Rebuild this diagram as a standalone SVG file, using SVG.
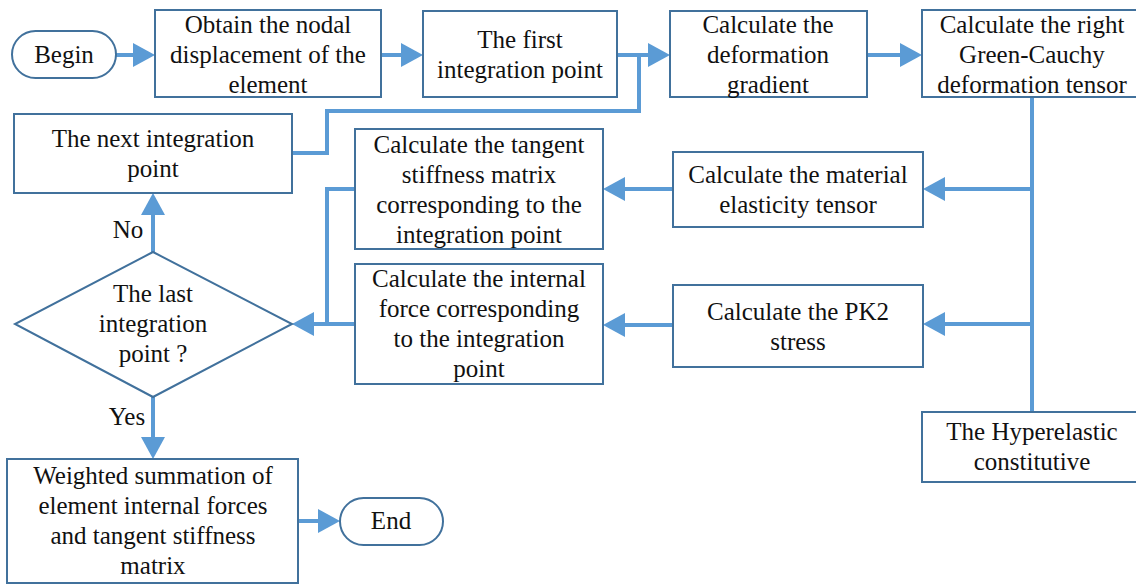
<svg xmlns="http://www.w3.org/2000/svg" width="1136" height="584" viewBox="0 0 1136 584">
<style>
.box{fill:#fff;stroke:#41719C;stroke-width:2}
.t{font-family:'Liberation Serif','DejaVu Serif',serif;font-size:25px;fill:#111;text-anchor:middle}
.c{fill:none;stroke:#5B9BD5;stroke-width:4}
.a{marker-end:url(#ah)}
</style>
<defs>
<marker id="ah" markerUnits="userSpaceOnUse" viewBox="0 0 22 24" markerWidth="22" markerHeight="24" refX="0" refY="12" orient="auto">
<path d="M0,0 L22,12 L0,24 Z" fill="#5B9BD5"/>
</marker>
</defs>
<rect width="1136" height="584" fill="#fff"/>
<g id="connectors">
<path class="c a" d="M116,55 H133"/>
<path class="c a" d="M381,55 H401"/>
<path class="c a" d="M617,55 H648"/>
<path class="c" d="M292,153 H327 V111 H639 V55"/>
<path class="c a" d="M867,55 H900"/>
<path class="c" d="M1032,97 V412"/>
<path class="c a" d="M1032,189 H945"/>
<path class="c a" d="M1032,324 H945"/>
<path class="c a" d="M673,189 H625"/>
<path class="c a" d="M673,325 H625"/>
<path class="c" d="M355,189 H327 V324"/>
<path class="c a" d="M355,324 H314"/>
<path class="c a" d="M153,252 V215"/>
<path class="c a" d="M153,397 V437"/>
<path class="c a" d="M298,521 H318"/>
<text class="t" x="128" y="238">No</text>
<text class="t" x="127" y="425">Yes</text>
</g>
<g id="begin">
<rect class="box" x="12" y="31" width="104" height="47" rx="23.5"/>
<text class="t" x="64" y="63">Begin</text>
</g>
<g id="obtain">
<rect class="box" x="155" y="10" width="226" height="87"/>
<text class="t" x="268" y="33">Obtain the nodal</text>
<text class="t" x="268" y="63">displacement of the</text>
<text class="t" x="268" y="93">element</text>
</g>
<g id="first">
<rect class="box" x="423" y="11" width="194" height="86"/>
<text class="t" x="520" y="48">The first</text>
<text class="t" x="520" y="78">integration point</text>
</g>
<g id="deform">
<rect class="box" x="670" y="11" width="197" height="86"/>
<text class="t" x="768" y="33">Calculate the</text>
<text class="t" x="768" y="63">deformation</text>
<text class="t" x="768" y="93">gradient</text>
</g>
<g id="greencauchy">
<rect class="box" x="922" y="10" width="220" height="87"/>
<text class="t" x="1032" y="33">Calculate the right</text>
<text class="t" x="1032" y="63">Green-Cauchy</text>
<text class="t" x="1032" y="93">deformation tensor</text>
</g>
<g id="next">
<rect class="box" x="14" y="114" width="278" height="79"/>
<text class="t" x="153" y="147">The next integration</text>
<text class="t" x="153" y="177">point</text>
</g>
<g id="tangent">
<rect class="box" x="355" y="129" width="248" height="120"/>
<text class="t" x="479" y="153">Calculate the tangent</text>
<text class="t" x="479" y="183">stiffness matrix</text>
<text class="t" x="479" y="213">corresponding to the</text>
<text class="t" x="479" y="243">integration point</text>
</g>
<g id="material">
<rect class="box" x="673" y="152" width="250" height="75"/>
<text class="t" x="798" y="183">Calculate the material</text>
<text class="t" x="798" y="213">elasticity tensor</text>
</g>
<g id="internal">
<rect class="box" x="355" y="264" width="248" height="120"/>
<text class="t" x="479" y="287">Calculate the internal</text>
<text class="t" x="479" y="317">force corresponding</text>
<text class="t" x="479" y="347">to the integration</text>
<text class="t" x="479" y="377">point</text>
</g>
<g id="pk2">
<rect class="box" x="673" y="285" width="250" height="82"/>
<text class="t" x="798" y="320">Calculate the PK2</text>
<text class="t" x="798" y="350">stress</text>
</g>
<g id="decision">
<polygon class="box" points="153,252 292,324 153,397 15,324"/>
<text class="t" x="153" y="302">The last</text>
<text class="t" x="153" y="332">integration</text>
<text class="t" x="153" y="362">point ?</text>
</g>
<g id="hyperelastic">
<rect class="box" x="922" y="412" width="220" height="70"/>
<text class="t" x="1032" y="440">The Hyperelastic</text>
<text class="t" x="1032" y="470">constitutive</text>
</g>
<g id="weighted">
<rect class="box" x="7" y="459" width="291" height="124"/>
<text class="t" x="153" y="484">Weighted summation of</text>
<text class="t" x="153" y="514">element internal forces</text>
<text class="t" x="153" y="544">and tangent stiffness</text>
<text class="t" x="153" y="574">matrix</text>
</g>
<g id="end">
<rect class="box" x="340" y="498" width="103" height="47" rx="23.5"/>
<text class="t" x="391" y="529">End</text>
</g>
</svg>
